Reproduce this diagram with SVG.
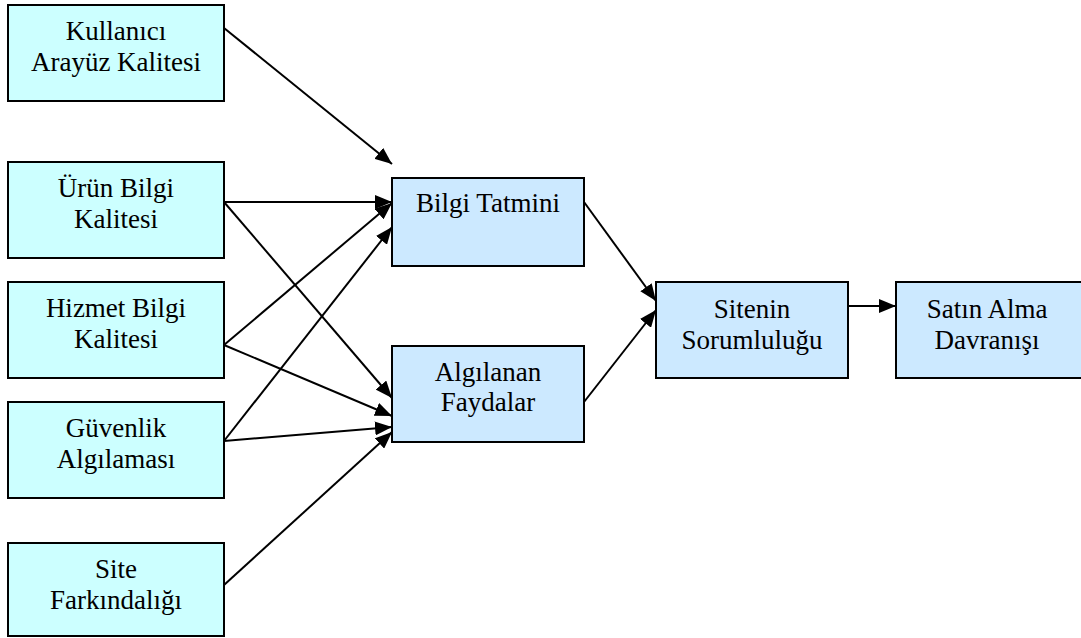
<svg xmlns="http://www.w3.org/2000/svg" width="1081" height="638" viewBox="0 0 1081 638">
<style>
.src rect{fill:#CCFFFF;stroke:#000;stroke-width:2}
.mid rect{fill:#CCE9FF;stroke:#000;stroke-width:2}
text{font-family:"Liberation Serif","Times New Roman",serif;font-size:27px;fill:#000;text-anchor:middle}
.conn line{stroke:#000;stroke-width:2;marker-end:url(#ah)}
</style>
<defs>
<marker id="ah" markerUnits="userSpaceOnUse" markerWidth="18" markerHeight="14" refX="17" refY="7" orient="auto">
<path d="M0,0 L17,7 L0,14 z" fill="#000"/>
</marker>
</defs>
<rect width="1081" height="638" fill="#fff"/>
<g id="n-kullanici" class="src"><rect x="8" y="5" width="216" height="96"/><text x="116" y="40">Kullanıcı</text><text x="116" y="71">Arayüz Kalitesi</text></g>
<g id="n-urun" class="src"><rect x="8" y="162" width="216" height="96"/><text x="116" y="197">Ürün Bilgi</text><text x="116" y="228">Kalitesi</text></g>
<g id="n-hizmet" class="src"><rect x="8" y="282" width="216" height="96"/><text x="116" y="317">Hizmet Bilgi</text><text x="116" y="348">Kalitesi</text></g>
<g id="n-guvenlik" class="src"><rect x="8" y="402" width="216" height="96"/><text x="116" y="437">Güvenlik</text><text x="116" y="468">Algılaması</text></g>
<g id="n-site" class="src"><rect x="8" y="543" width="216" height="93"/><text x="116" y="578">Site</text><text x="116" y="609">Farkındalığı</text></g>
<g id="n-bilgi" class="mid"><rect x="392" y="178" width="192" height="88"/><text x="488" y="212">Bilgi Tatmini</text></g>
<g id="n-algilanan" class="mid"><rect x="392" y="346" width="192" height="96"/><text x="488" y="381">Algılanan</text><text x="488" y="411">Faydalar</text></g>
<g id="n-sitenin" class="mid"><rect x="656" y="282" width="192" height="96"/><text x="752" y="318">Sitenin</text><text x="752" y="349">Sorumluluğu</text></g>
<g id="n-satin" class="mid"><rect x="896" y="282" width="190" height="96"/><text x="987" y="318">Satın Alma</text><text x="987" y="349">Davranışı</text></g>
<g id="connectors" class="conn">
<line x1="224" y1="28" x2="392" y2="164"/>
<line x1="224" y1="202" x2="392" y2="202"/>
<line x1="224" y1="202" x2="392" y2="398"/>
<line x1="224" y1="345" x2="392" y2="203"/>
<line x1="224" y1="345" x2="392" y2="416"/>
<line x1="224" y1="441" x2="392" y2="227"/>
<line x1="224" y1="441" x2="392" y2="427"/>
<line x1="224" y1="585" x2="392" y2="432"/>
<line x1="584" y1="202" x2="656" y2="301"/>
<line x1="584" y1="402" x2="656" y2="310"/>
<line x1="848" y1="306" x2="896" y2="306"/>
</g>
</svg>
